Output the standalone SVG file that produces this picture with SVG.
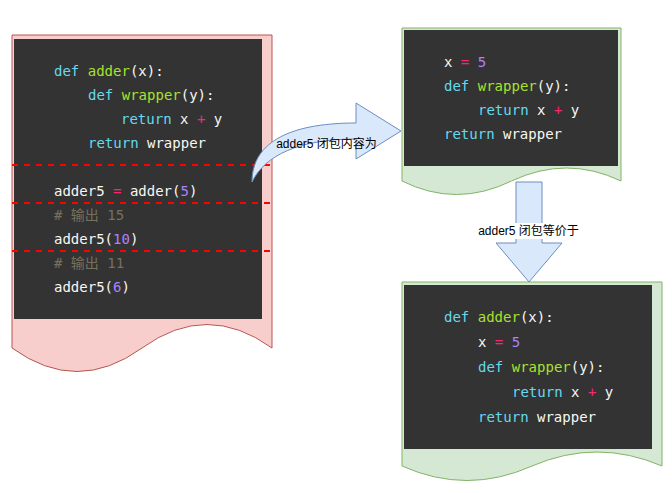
<svg xmlns="http://www.w3.org/2000/svg" width="672" height="493" viewBox="0 0 672 493">
<style>
.code{font-family:"DejaVu Sans Mono","Liberation Mono","Noto Sans CJK SC",monospace;font-size:14px;fill:#f8f8f2;white-space:pre}
.k{fill:#66d9ef}
.f{fill:#a6e22e}
.o{fill:#f92672}
.n{fill:#ae81ff}
.c{fill:#75715e}
.box{fill:#333333}
.lbl{font-family:"Liberation Sans","Noto Sans CJK SC",sans-serif;font-size:12px;fill:#000000;text-anchor:middle}
.arrow{fill:#dae8fc;stroke:#6c8ebf;stroke-width:1}
.sep{stroke:#ff0000;stroke-width:2;stroke-dasharray:6 6;fill:none}
</style>
<rect width="672" height="493" fill="#ffffff"/>
<g id="node-original">
<path d="M12,35 L272,35 L272,348 Q207,301 142,348 Q77,395 12,348 Z" fill="#f8cecc" stroke="#b85450"/>
<rect class="box" x="14" y="39" width="248" height="280"/>
<text class="code" x="54" y="76"><tspan class="k">def</tspan> <tspan class="f">adder</tspan>(x):</text>
<text class="code" x="88" y="100"><tspan class="k">def</tspan> <tspan class="f">wrapper</tspan>(y):</text>
<text class="code" x="121" y="124"><tspan class="k">return</tspan> x <tspan class="o">+</tspan> y</text>
<text class="code" x="88" y="148"><tspan class="k">return</tspan> wrapper</text>
<text class="code" x="54" y="196">adder5 <tspan class="o">=</tspan> adder(<tspan class="n">5</tspan>)</text>
<text class="code c" x="54" y="220"># 输出 15</text>
<text class="code" x="54" y="244">adder5(<tspan class="n">10</tspan>)</text>
<text class="code c" x="54" y="268"># 输出 11</text>
<text class="code" x="54" y="292">adder5(<tspan class="n">6</tspan>)</text>
<line class="sep" x1="12" y1="165" x2="272" y2="165"/>
<line class="sep" x1="12" y1="203" x2="272" y2="203"/>
<line class="sep" x1="12" y1="251" x2="272" y2="251"/>
</g>
<g id="node-closure">
<path d="M402,28 L621,28 L621,181 Q566.75,155 511.5,181 Q456.25,208 402,181 Z" fill="#d5e8d4" stroke="#82b366"/>
<rect class="box" x="404" y="30" width="214" height="136"/>
<text class="code" x="444" y="67">x <tspan class="o">=</tspan> <tspan class="n">5</tspan></text>
<text class="code" x="444" y="91"><tspan class="k">def</tspan> <tspan class="f">wrapper</tspan>(y):</text>
<text class="code" x="478" y="115"><tspan class="k">return</tspan> x <tspan class="o">+</tspan> y</text>
<text class="code" x="444" y="139"><tspan class="k">return</tspan> wrapper</text>
</g>
<g id="node-equivalent">
<path d="M402,282 L662,282 L662,466 Q597,438 532,466 Q467,495 402,466 Z" fill="#d5e8d4" stroke="#82b366"/>
<rect class="box" x="404" y="285" width="248" height="164"/>
<text class="code" x="444" y="322"><tspan class="k">def</tspan> <tspan class="f">adder</tspan>(x):</text>
<text class="code" x="478" y="347">x <tspan class="o">=</tspan> <tspan class="n">5</tspan></text>
<text class="code" x="478" y="372"><tspan class="k">def</tspan> <tspan class="f">wrapper</tspan>(y):</text>
<text class="code" x="512" y="397"><tspan class="k">return</tspan> x <tspan class="o">+</tspan> y</text>
<text class="code" x="478" y="422"><tspan class="k">return</tspan> wrapper</text>
</g>
<g id="connectors">
<g id="conn-content">
<path class="arrow" d="M252,182 C252,145 285,123 356,123 L356,103 L401,131 L356,159 L356,139 C300,139 265,155 252,182 Z"/>
<text class="lbl" x="326.5" y="147.5">adder5 闭包内容为</text>
</g>
<g id="conn-equiv">
<path class="arrow" d="M516,182 L542,182 L542,243 L562,243 L529,282 L496,243 L516,243 Z"/>
<rect x="478" y="223" width="101" height="16" fill="#ffffff"/>
<text class="lbl" x="528.5" y="235">adder5 闭包等价于</text>
</g>
</g>
</svg>
